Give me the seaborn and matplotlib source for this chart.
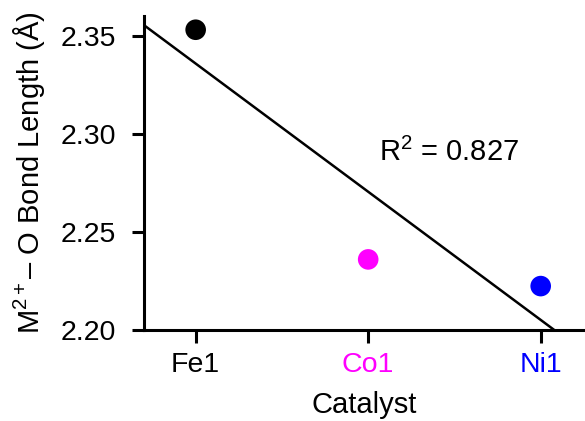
import numpy as np
import pandas as pd
import matplotlib
matplotlib.use("Agg")
import matplotlib.pyplot as plt
import seaborn as sns

catalysts = ["Fe1", "Co1", "Ni1"]
bond_length = [2.353, 2.236, 2.2224]
colors = ["#000000", "#FF00FF", "#0000FF"]
r2_label = "R$^2$ = 0.827"

sns.set_style("ticks")
plt.rcParams['font.family'] = ['Liberation Sans', 'DejaVu Sans']
plt.rcParams['mathtext.fontset'] = 'custom'
plt.rcParams['mathtext.rm'] = 'Liberation Sans'
plt.rcParams['mathtext.it'] = 'Liberation Sans'
plt.rcParams['text.color'] = 'black'
plt.rcParams['axes.labelcolor'] = 'black'
plt.rcParams['xtick.color'] = 'black'
plt.rcParams['ytick.color'] = 'black'

df = pd.DataFrame({"pos": np.arange(len(catalysts)), "cat": catalysts, "y": bond_length})

fig = plt.figure(figsize=(5.85, 4.21), dpi=100)
ax = fig.add_axes([0.246, 0.216, 0.752, 0.746])
ax.set_xlim(-0.3, 2.25)
ax.set_ylim(2.20, 2.36)

sns.regplot(data=df, x="pos", y="y", ax=ax, ci=None, truncate=False, scatter=False,
            line_kws=dict(color="black", lw=1.8))
sns.scatterplot(data=df, x="pos", y="y", hue="cat", palette=colors, s=220,
                edgecolor="none", legend=False, ax=ax, zorder=3)
ax.set_xlim(-0.3, 2.25)
ax.set_ylim(2.20, 2.36)

ax.set_xticks(df["pos"])
ax.set_xticklabels(catalysts)
for lbl, c in zip(ax.get_xticklabels(), colors):
    lbl.set_color(c)
ax.set_yticks([2.20, 2.25, 2.30, 2.35])
ax.set_yticklabels(["2.20", "2.25", "2.30", "2.35"])
ax.tick_params(labelsize=20.5, width=2.2, length=9, color="black")
ax.tick_params(axis="x", pad=7)
ax.tick_params(axis="y", pad=11)
ax.set_xlabel("Catalyst", fontsize=21, labelpad=9)
ax.set_ylabel("M$^{2+}$– O Bond Length (Å)", fontsize=21, labelpad=10)
for s in ["left", "bottom"]:
    ax.spines[s].set_linewidth(2.2)
    ax.spines[s].set_color("black")
sns.despine(ax=ax)
ax.text(1.47, 2.2905, r2_label, fontsize=21, ha="center", va="center")

fig.savefig("out.png", dpi=100)
